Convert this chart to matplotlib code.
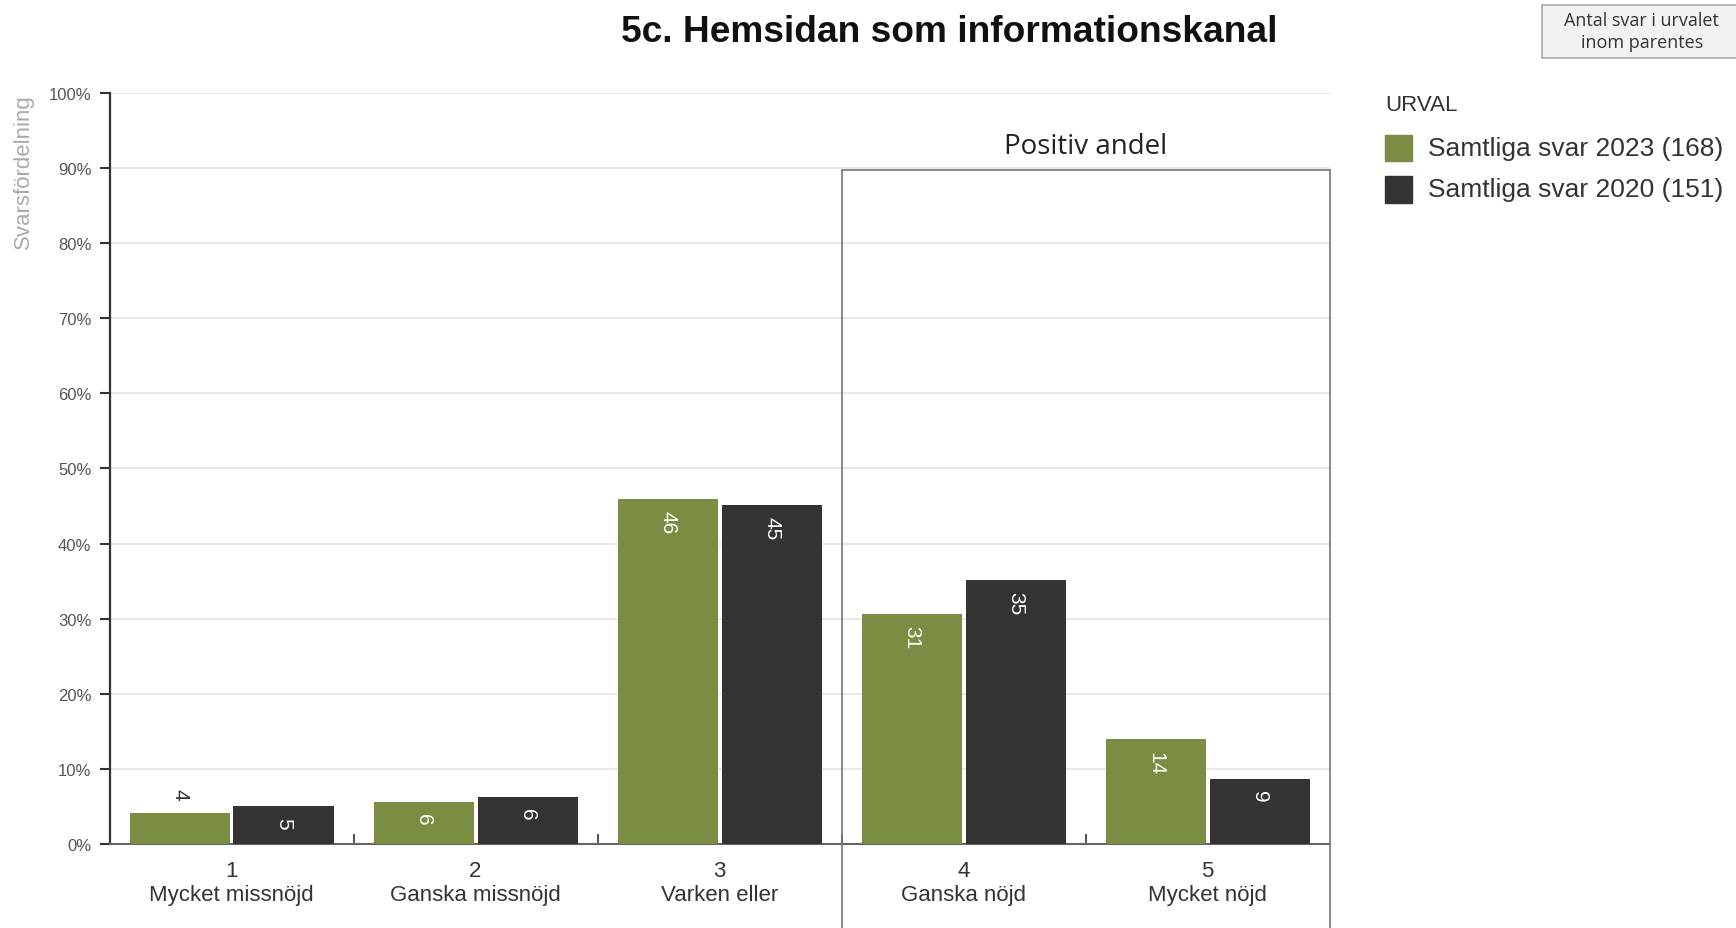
import numpy as np
import matplotlib.pyplot as plt
from matplotlib.patches import Rectangle

# Data
categories = ["1\nMycket missnöjd", "2\nGanska missnöjd", "3\nVarken eller",
              "4\nGanska nöjd", "5\nMycket nöjd"]
values_2023 = [4.1, 5.6, 45.9, 30.6, 13.9]
values_2020 = [5.0, 6.3, 45.1, 35.1, 8.7]
labels_2023 = ["4", "6", "46", "31", "14"]
labels_2020 = ["5", "6", "45", "35", "9"]
series_names = ["Samtliga svar 2023 (168)", "Samtliga svar 2020 (151)"]
yticks = [0, 10, 20, 30, 40, 50, 60, 70, 80, 90, 100]

green = "#7b8d42"
dark = "#333333"

plt.rcParams['font.family'] = ['Liberation Sans', 'DejaVu Sans']

fig = plt.figure(figsize=(17.36, 9.29), dpi=100)
ax = fig.add_axes([0.0631, 0.0906, 0.7028, 0.8081])

x = np.arange(1, len(categories) + 1)
w = 0.41
off = 0.213
bars1 = ax.bar(x - off, values_2023, w, color=green, zorder=3)
bars2 = ax.bar(x + off, values_2020, w, color=dark, zorder=3)

# Value labels (rotated, inside near top unless the bar is too short)
for bars, labs in [(bars1, labels_2023), (bars2, labels_2020)]:
    for b, lab in zip(bars, labs):
        h = b.get_height()
        cx = b.get_x() + b.get_width() / 2
        if h < 4.5:
            ax.annotate(lab, (cx, h), xytext=(0, 10), textcoords="offset points",
                        ha="center", va="bottom", rotation=-90, fontsize=15,
                        color=dark, zorder=4)
        else:
            ax.annotate(lab, (cx, h), xytext=(0, -8), textcoords="offset points",
                        ha="center", va="top", rotation=-90, fontsize=15,
                        color="white", zorder=4)

ax.set_xlim(0.5, 5.5)
ax.set_ylim(0, 100)
ax.set_yticks(yticks)
ax.set_yticklabels([f"{t}%" for t in yticks], fontsize=12, color="#555555")
ax.set_xticks(x)
ax.set_xticklabels(categories, fontsize=16, color="#333333", linespacing=1.15)
ax.set_xticks([1.5, 2.5, 3.5, 4.5], minor=True)
ax.tick_params(axis="x", which="major", length=0, pad=12)
ax.tick_params(axis="x", which="minor", direction="in", length=7, width=1.3, color="#444444")
ax.tick_params(axis="y", length=7, width=1.5, color="#333333", pad=6)

ax.grid(axis="y", color="#e8e8e8", linewidth=1.5, zorder=0)
for s in ["top", "right"]:
    ax.spines[s].set_visible(False)
ax.spines["left"].set_color("#333333")
ax.spines["left"].set_linewidth(1.6)
ax.spines["bottom"].set_color("#666666")
ax.spines["bottom"].set_linewidth(1.5)

# y-axis title, aligned with the top of the axis
ax.text(-0.0705, 1.0, "Svarsfördelning", transform=ax.transAxes, rotation=90,
        ha="center", va="top", fontsize=16, color="#aaaaaa")

# "Positiv andel" box
box_color = "#777777"
ax.plot([3.5, 3.5], [-12, 89.7], color=box_color, lw=1.2, clip_on=False, zorder=5)
ax.plot([5.5, 5.5], [-12, 89.7], color=box_color, lw=1.2, clip_on=False, zorder=5)
ax.plot([3.5, 5.5], [89.7, 89.7], color=box_color, lw=1.2, clip_on=False, zorder=5)
ax.text(4.5, 93.0, "Positiv andel", ha="center", va="center", fontsize=20,
        color="#222222", family=["Open Sans", "DejaVu Sans"])

# Title
fig.text(0.547, 0.965, "5c. Hemsidan som informationskanal", ha="center", va="center",
         fontsize=26.7, fontweight="bold", color="#111111")

# Info box top right
fig.patches.append(Rectangle((0.8885, 0.9368), 0.12, 0.0572, transform=fig.transFigure,
                             fc="#f2f2f2", ec="#aaaaaa", lw=1.2, figure=fig))
fig.text(0.9458, 0.9655, "Antal svar i urvalet\ninom parentes", ha="center", va="center",
         fontsize=13, color="#333333", family=["Open Sans", "DejaVu Sans"], linespacing=1.25)

# Legend (manual)
fig.text(0.7978, 0.886, "URVAL", ha="left", va="center", fontsize=16, color="#333333")
for i, (name, col) in enumerate(zip(series_names, [green, dark])):
    yc = 0.8395 - i * 0.0445
    fig.patches.append(Rectangle((0.7978, yc - 0.0143), 0.0153, 0.0286,
                                 transform=fig.transFigure, color=col, figure=fig))
    fig.text(0.8225, yc, name, ha="left", va="center", fontsize=19, color="#333333")

fig.savefig("out.png", dpi=100)
